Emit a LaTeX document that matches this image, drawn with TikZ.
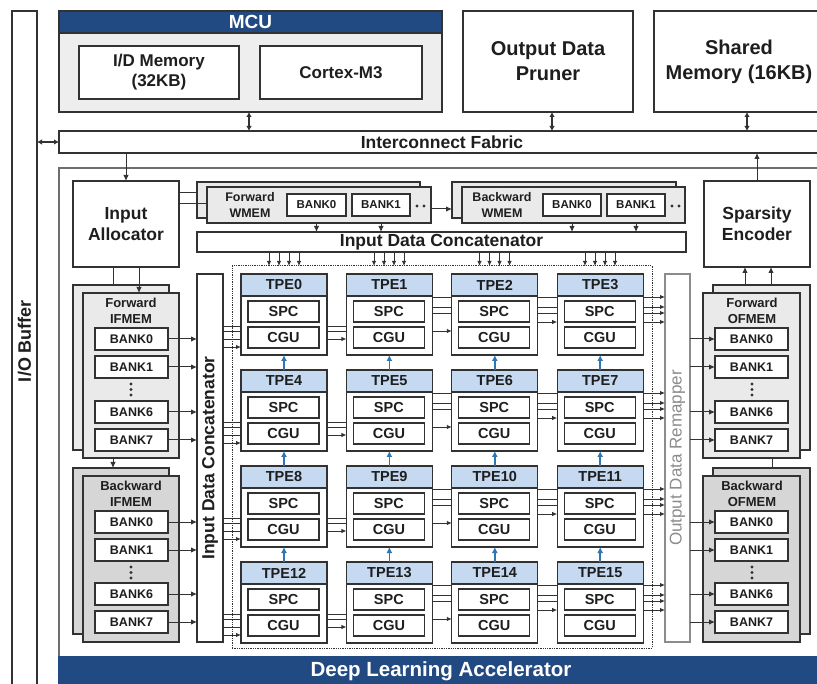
\documentclass[tikz,border=0pt]{standalone}
\usepackage{fontspec}
\setmainfont{Liberation Sans}
\usetikzlibrary{arrows.meta,calc}
\definecolor{navy}{RGB}{33,74,130}
\definecolor{linec}{RGB}{50,50,50}
\definecolor{txt}{RGB}{30,30,30}
\definecolor{mcufill}{RGB}{238,238,238}
\definecolor{memfill}{RGB}{234,234,234}
\definecolor{bwfill}{RGB}{214,214,214}
\definecolor{tpehead}{RGB}{197,217,240}
\definecolor{tpearrow}{RGB}{46,117,182}
\definecolor{grayline}{RGB}{110,110,110}
\definecolor{remap}{RGB}{140,140,140}
\newcommand\fsz[2]{\fontsize{#1pt}{#2pt}\selectfont}
% box from its top-left (x1,y1) to its bottom-right (x2,y2)
\newcommand\mkbox[6][]{\node[blk,minimum width={((#4)-(#2))*1pt},minimum height={((#5)-(#3))*1pt},#1] at (#2,#3) {#6};}
% horizontal connector at height y between two node anchors
\newcommand\hlink[4][]{\coordinate (hy) at (0,#4); \draw[gl,#1] (#2 |- hy) -- (#3 |- hy);}
% vertical connector at abscissa x between two node anchors
\newcommand\vlink[4][]{\coordinate (vx) at (#4,0); \draw[gl,#1] (vx |- #2) -- (vx |- #3);}
\begin{document}
\begin{tikzpicture}[x=1pt,y=-1pt,font=\bfseries,text=txt,
  blk/.style={draw=linec,line width=1.3pt,inner sep=0pt,outer sep=0pt,anchor=north west,align=center},
  gl/.style={draw=linec,line width=1pt},
  arr/.style={-{Latex[length=6pt,width=5.5pt]}},
  sarr/.style={-{Latex[length=5pt,width=4.5pt]},line width=0.9pt},
  dbl/.style={{Latex[length=5pt,width=5.5pt]}-{Latex[length=5pt,width=5.5pt]},line width=1.1pt},
  barr/.style={-{Latex[length=6pt,width=6pt]},draw=tpearrow,line width=1.5pt},
  bankf/.style={fill=white,font=\bfseries\fsz{12.5}{14}},
  wbankf/.style={fill=white,font=\bfseries\fsz{11.5}{13}},
  subf/.style={fill=white,line width=1.1pt,font=\bfseries\fsz{14.5}{16}},
  dot/.style={fill=linec}]
\fill[white] (0,0) rectangle (817,684);
\useasboundingbox (0,0) rectangle (817,684);

% I/O buffer column
\mkbox[name=iob,fill=white]{12}{11}{37}{700}{}
\node[rotate=90,font=\bfseries\fsz{18}{20}] (iobl) at (24.5,341) {I/O Buffer};

% MCU
\mkbox[name=mcu,fill=mcufill]{59}{11}{442}{112}{}
\mkbox[name=mcuh,fill=navy,text=white,font=\bfseries\fsz{19}{22}]{59}{11}{442}{33}{MCU}
\mkbox[name=idm,fill=white,font=\bfseries\fsz{17}{20}]{79}{46}{239}{99}{I/D Memory\\(32KB)}
\mkbox[name=cm3,fill=white,font=\bfseries\fsz{17}{20}]{260}{46}{422}{99}{Cortex-M3}

% pruner and shared memory
\mkbox[name=odp,fill=white,font=\bfseries\fsz{20}{25}]{463}{11}{633}{112}{Output Data\\Pruner}
\mkbox[name=shm,fill=white,font=\bfseries\fsz{20}{25}]{654}{11}{824}{112}{Shared\\Memory (16KB)}

% interconnect
\mkbox[name=icf,fill=white,font=\bfseries\fsz{17.5}{20}]{59}{131}{825}{153}{Interconnect Fabric}
\vlink[dbl]{mcu.south}{icf.north}{249}
\vlink[dbl]{odp.south}{icf.north}{552}
\vlink[dbl]{shm.south}{icf.north}{747}
\draw[gl,dbl] (iob.east |- icf.west) -- (icf.west);

% accelerator frame
\mkbox[name=dla,fill=white,draw=grayline]{59}{168}{825}{700}{}
\mkbox[name=dlab,fill=navy,draw=navy]{59}{657}{825}{700}{}
\node[text=white,font=\bfseries\fsz{20.5}{24}] (dlal) at (441,671) {Deep Learning Accelerator};

% allocator and encoder
\mkbox[name=ia,fill=white,font=\bfseries\fsz{17.5}{21}]{73}{181}{179}{267}{Input\\Allocator}
\mkbox[name=se,fill=white,font=\bfseries\fsz{17.5}{21}]{704}{181}{810}{267}{Sparsity\\Encoder}
\vlink[arr]{icf.south}{ia.north}{126}
\vlink[arr]{se.north}{icf.south}{757}

% weight memories
\mkbox[name=fwsh,fill=memfill]{197}{182}{420}{218}{}
\mkbox[name=fw,fill=memfill]{207}{187}{431}{223}{}
\node[font=\bfseries\fsz{12.5}{15.5},align=center] (fwl) at (250,205) {Forward\\WMEM};
\mkbox[name=fwb0,wbankf]{287}{194}{346}{216}{BANK0}
\mkbox[name=fwb1,wbankf]{352}{194}{410}{216}{BANK1}
\fill[dot] (417,206) circle (1.7pt) (424,206) circle (1.7pt);
\mkbox[name=bwsh,fill=memfill]{452}{182}{676}{218}{}
\mkbox[name=bw,fill=memfill]{462}{187}{685}{223}{}
\node[font=\bfseries\fsz{12.5}{15.5},align=center] (bwl) at (502,205) {Backward\\WMEM};
\mkbox[name=bwb0,wbankf]{543}{194}{601}{216}{BANK0}
\mkbox[name=bwb1,wbankf]{607}{194}{665}{216}{BANK1}
\fill[dot] (672,206) circle (1.7pt) (679,206) circle (1.7pt);
\hlink{ia.east}{fwsh.west}{193}
\hlink{ia.east}{fw.west}{204}
\hlink[arr]{fw.east}{bwsh.west}{209}

% horizontal concatenator
\mkbox[name=idc,fill=white,font=\bfseries\fsz{17.5}{20}]{197}{232}{686}{252}{Input Data Concatenator}
\vlink[arr]{fw.south}{idc.north}{316.5}
\vlink[arr]{fw.south}{idc.north}{381}
\vlink[arr]{bw.south}{idc.north}{572}
\vlink[arr]{bw.south}{idc.north}{636}

% PE array frame
\mkbox[name=grid,draw=linec,densely dotted,line width=1pt]{232}{266}{652}{648}{}
\foreach \cx in {284,389,494.5,600} {
  \foreach \d in {-15,-5,5,15} {
    \vlink[sarr]{idc.south}{grid.north}{\cx+\d}
  }
}

% vertical concatenator and remapper
\mkbox[name=vic,fill=white]{197}{274}{223}{642}{}
\node[rotate=90,font=\bfseries\fsz{17.5}{20}] (vicl) at (210,458) {Input Data Concatenator};
\mkbox[name=odr,fill=white,draw=remap]{665}{274}{690}{642}{}
\node[rotate=90,text=remap,font=\fsz{17}{20}] (odrl) at (677.5,458) {Output Data Remapper};

% processing elements
\foreach \r in {0,...,3} {
  \foreach \c in {0,...,3} {
    \pgfmathsetmacro\xx{241+105.4*\c}
    \pgfmathsetmacro\yy{274+96*\r}
    \pgfmathtruncatemacro\n{4*\r+\c}
    \mkbox[name=t\n,fill=white]{\xx}{\yy}{\xx+86}{\yy+81}{}
    \mkbox[name=h\n,fill=tpehead,font=\bfseries\fsz{14.5}{16}]{\xx}{\yy}{\xx+86}{\yy+22}{TPE\n}
    \mkbox[name=s\n,subf]{\xx+7}{\yy+27}{\xx+78}{\yy+48}{SPC}
    \mkbox[name=g\n,subf]{\xx+7}{\yy+53}{\xx+78}{\yy+74}{CGU}
  }
}
\foreach \n in {4,...,15} {
  \pgfmathtruncatemacro\m{\n-4}
  \draw[barr] (t\n.north) -- (t\m.south);
}

% data lines through each row
\foreach \r in {0,...,3} {
  \pgfmathsetmacro\yy{274+96*\r}
  \pgfmathtruncatemacro\a{4*\r}
  \pgfmathtruncatemacro\b{4*\r+1}
  \pgfmathtruncatemacro\cc{4*\r+2}
  \pgfmathtruncatemacro\dd{4*\r+3}
  \foreach \o in {52,57,65} {\hlink[line width=0.9pt]{vic.east}{t\a.west}{\yy+\o}}
  \hlink[sarr]{vic.east}{t\a.west}{\yy+73}
  \foreach \o in {52,57} {\hlink[line width=0.9pt]{t\a.east}{t\b.west}{\yy+\o}}
  \hlink[sarr]{t\a.east}{t\b.west}{\yy+65}
  \foreach \o in {23,33,39} {\hlink[line width=0.9pt]{t\b.east}{t\cc.west}{\yy+\o}}
  \hlink[sarr]{t\b.east}{t\cc.west}{\yy+57}
  \foreach \o in {23,33,39} {\hlink[line width=0.9pt]{t\cc.east}{t\dd.west}{\yy+\o}}
  \hlink[sarr]{t\cc.east}{t\dd.west}{\yy+48}
  \foreach \o in {23,33,39,48} {\hlink[sarr]{t\dd.east}{odr.west}{\yy+\o}}
}

% input feature memories
\mkbox[name=fish,fill=memfill]{73}{285}{169}{450}{}
\mkbox[name=fi,fill=memfill]{83}{293}{179}{458}{}
\node[font=\bfseries\fsz{13}{16},align=center] (fil) at (131,310.5) {Forward\\IFMEM};
\foreach \k/\yb in {0/328,1/356,6/401,7/429} {
  \mkbox[name=fib\k,bankf]{95}{\yb}{168}{\yb+22}{BANK\k}
  \draw[gl,arr] (fib\k.east) -- (vic.west |- fib\k.east);
}
\fill[dot] (131,384) circle (1.6pt) (131,389.5) circle (1.6pt) (131,395) circle (1.6pt);
\mkbox[name=bish,fill=bwfill]{73}{468}{169}{634}{}
\mkbox[name=bi,fill=bwfill]{83}{476}{179}{642}{}
\node[font=\bfseries\fsz{13}{16},align=center] (bil) at (131,494) {Backward\\IFMEM};
\foreach \k/\yb in {0/511,1/539,6/583,7/611} {
  \mkbox[name=bib\k,bankf]{95}{\yb}{168}{\yb+22}{BANK\k}
  \draw[gl,arr] (bib\k.east) -- (vic.west |- bib\k.east);
}
\fill[dot] (131,567) circle (1.6pt) (131,572.5) circle (1.6pt) (131,578) circle (1.6pt);
\vlink{ia.south}{fish.north}{113}
\vlink[arr]{ia.south}{fi.north}{139}
\vlink[arr]{fi.south}{bish.north}{113}

% output feature memories
\mkbox[name=fosh,fill=memfill]{713}{285}{810}{450}{}
\mkbox[name=fo,fill=memfill]{703}{293}{800}{458}{}
\node[font=\bfseries\fsz{13}{16},align=center] (fol) at (752,310.5) {Forward\\OFMEM};
\foreach \k/\yb in {0/328,1/356,6/401,7/429} {
  \mkbox[name=fob\k,bankf]{715}{\yb}{788}{\yb+22}{BANK\k}
  \draw[gl,arr] (odr.east |- fob\k.west) -- (fob\k.west);
}
\fill[dot] (752,384) circle (1.6pt) (752,389.5) circle (1.6pt) (752,395) circle (1.6pt);
\mkbox[name=bosh,fill=bwfill]{713}{468}{810}{634}{}
\mkbox[name=bo,fill=bwfill]{703}{476}{800}{642}{}
\node[font=\bfseries\fsz{13}{16},align=center] (bol) at (752,494) {Backward\\OFMEM};
\foreach \k/\yb in {0/511,1/539,6/583,7/611} {
  \mkbox[name=bob\k,bankf]{715}{\yb}{788}{\yb+22}{BANK\k}
  \draw[gl,arr] (odr.east |- bob\k.west) -- (bob\k.west);
}
\fill[dot] (752,567) circle (1.6pt) (752,572.5) circle (1.6pt) (752,578) circle (1.6pt);
\vlink[arr]{fosh.north}{se.south}{745}
\vlink[arr]{fosh.north}{se.south}{771}
\vlink{fo.south}{bosh.north}{772}
\end{tikzpicture}
\end{document}
